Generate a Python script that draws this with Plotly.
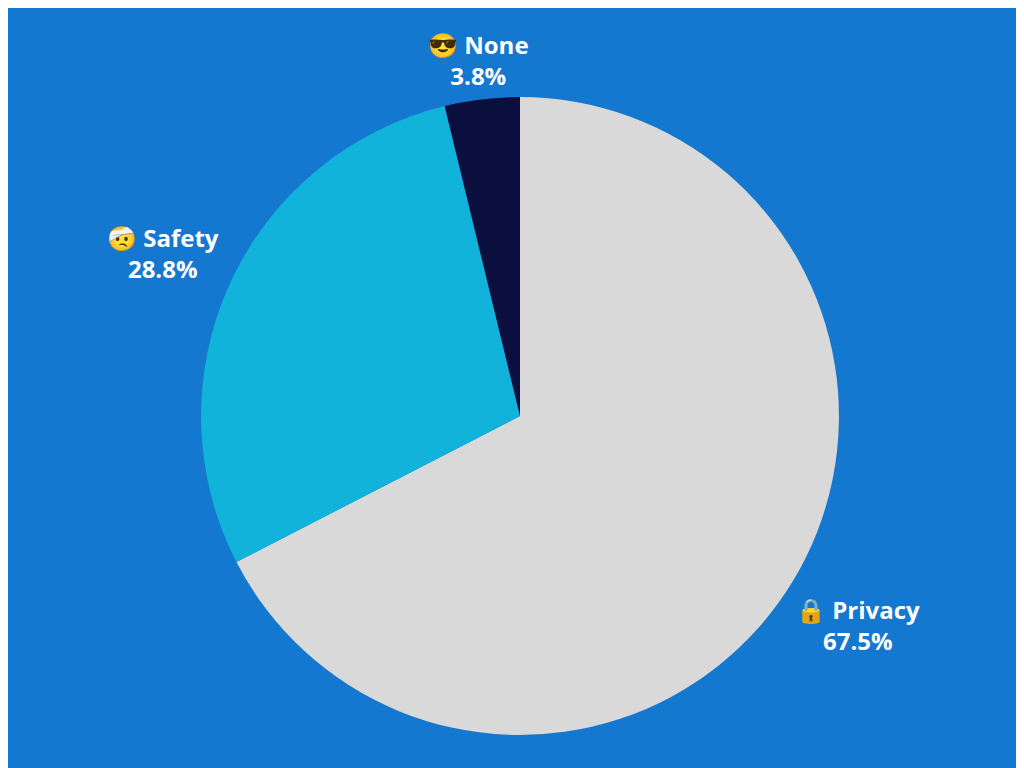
import plotly.graph_objects as go

labels = ["Privacy", "Safety", "None"]
icons = ["🔒", "🤕", "😎"]
values = [67.5, 28.8, 3.8]
colors = ["#D9D9D9", "#12B3DB", "#0A0F3D"]

fig = go.Figure(go.Pie(
    labels=labels, values=values, sort=False, direction="clockwise", rotation=0,
    marker=dict(colors=colors, line=dict(width=0)), textinfo="none",
    hoverinfo="label+percent", domain=dict(x=[0, 1], y=[0.0534, 0.884]),
))

# label anchor positions (pixels from top-left)
pos = [(850, 617), (155, 245), (470, 52)]
for lab, ic, v, (px_, py_) in zip(labels, icons, values, pos):
    fig.add_annotation(
        x=px_ / 1024, y=1 - py_ / 768, xref="paper", yref="paper", showarrow=False,
        xanchor="center", yanchor="middle",
        text=f"{ic} {lab}<br>{v}%", align="center",
        font=dict(family="Open Sans", size=24, color="white", weight="bold"),
    )

fig.update_layout(
    width=1024, height=768, margin=dict(l=0, r=0, t=0, b=0),
    paper_bgcolor="#1477D0", plot_bgcolor="#1477D0", showlegend=False,
)
fig.write_html("out.html")
